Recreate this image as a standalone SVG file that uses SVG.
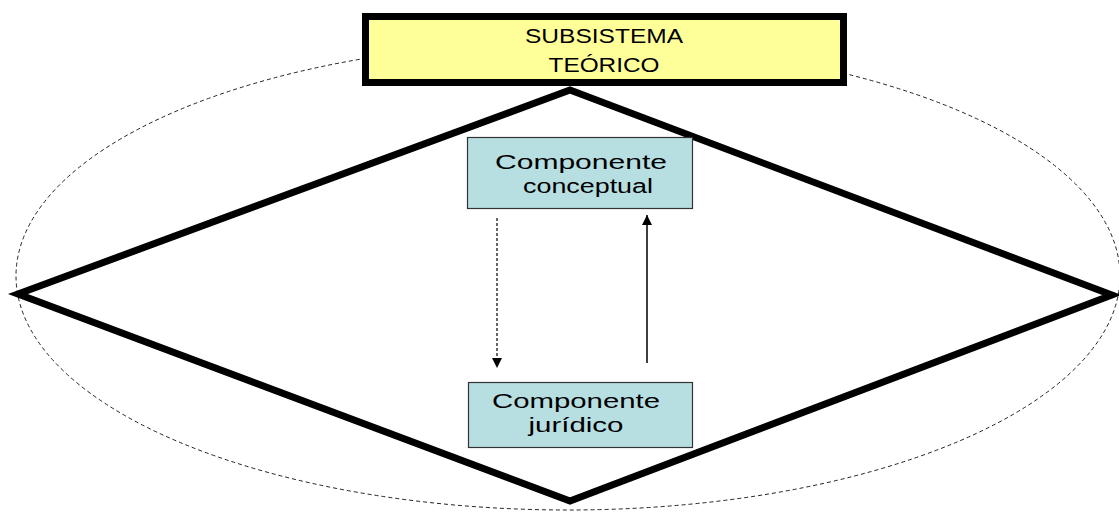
<svg xmlns="http://www.w3.org/2000/svg" width="1119" height="512" viewBox="0 0 1119 512">
<style>
.t{font-family:"Liberation Sans",Arial,sans-serif;fill:#000;text-anchor:middle}
.comp{fill:#B7DFE1;stroke:#333;stroke-width:1.2}
</style>
<defs>
<marker id="ah" viewBox="0 0 10 10" refX="10" refY="5" markerWidth="10" markerHeight="10" markerUnits="userSpaceOnUse" orient="auto">
<path d="M0,0 L10,5 L0,10 Z" fill="#000"/>
</marker>
</defs>
<rect width="1119" height="512" fill="#fff"/>
<g id="ellipse">
<ellipse cx="568" cy="276" rx="552" ry="234" fill="none" stroke="#222" stroke-width="1" stroke-dasharray="4 3"/>
</g>
<g id="diamond">
<polygon points="570,90 1112,295 570,501 18,294" fill="none" stroke="#000" stroke-width="7" stroke-linejoin="miter"/>
</g>
<g id="subsistema">
<rect x="365.5" y="16.5" width="478" height="66" fill="#FFFF99" stroke="#000" stroke-width="7"/>
<text class="t" x="604" y="43" font-size="20" textLength="158" lengthAdjust="spacingAndGlyphs">SUBSISTEMA</text>
<text class="t" x="604" y="72" font-size="20" textLength="111" lengthAdjust="spacingAndGlyphs">TEÓRICO</text>
</g>
<g id="conceptual">
<rect class="comp" x="467.5" y="137.5" width="225" height="71"/>
<text class="t" x="581" y="169" font-size="20" textLength="172" lengthAdjust="spacingAndGlyphs">Componente</text>
<text class="t" x="588" y="193" font-size="20" textLength="130" lengthAdjust="spacingAndGlyphs">conceptual</text>
</g>
<g id="juridico">
<rect class="comp" x="468.5" y="382.5" width="224" height="65"/>
<text class="t" x="576" y="408" font-size="20" textLength="168" lengthAdjust="spacingAndGlyphs">Componente</text>
<text class="t" x="576" y="432" font-size="20" textLength="95" lengthAdjust="spacingAndGlyphs">jurídico</text>
</g>
<g id="connectors">
<line x1="497" y1="218" x2="497" y2="368" stroke="#000" stroke-width="1.2" stroke-dasharray="3 2" marker-end="url(#ah)"/>
<line x1="647" y1="363" x2="647" y2="215" stroke="#000" stroke-width="1.5" marker-end="url(#ah)"/>
</g>
</svg>
